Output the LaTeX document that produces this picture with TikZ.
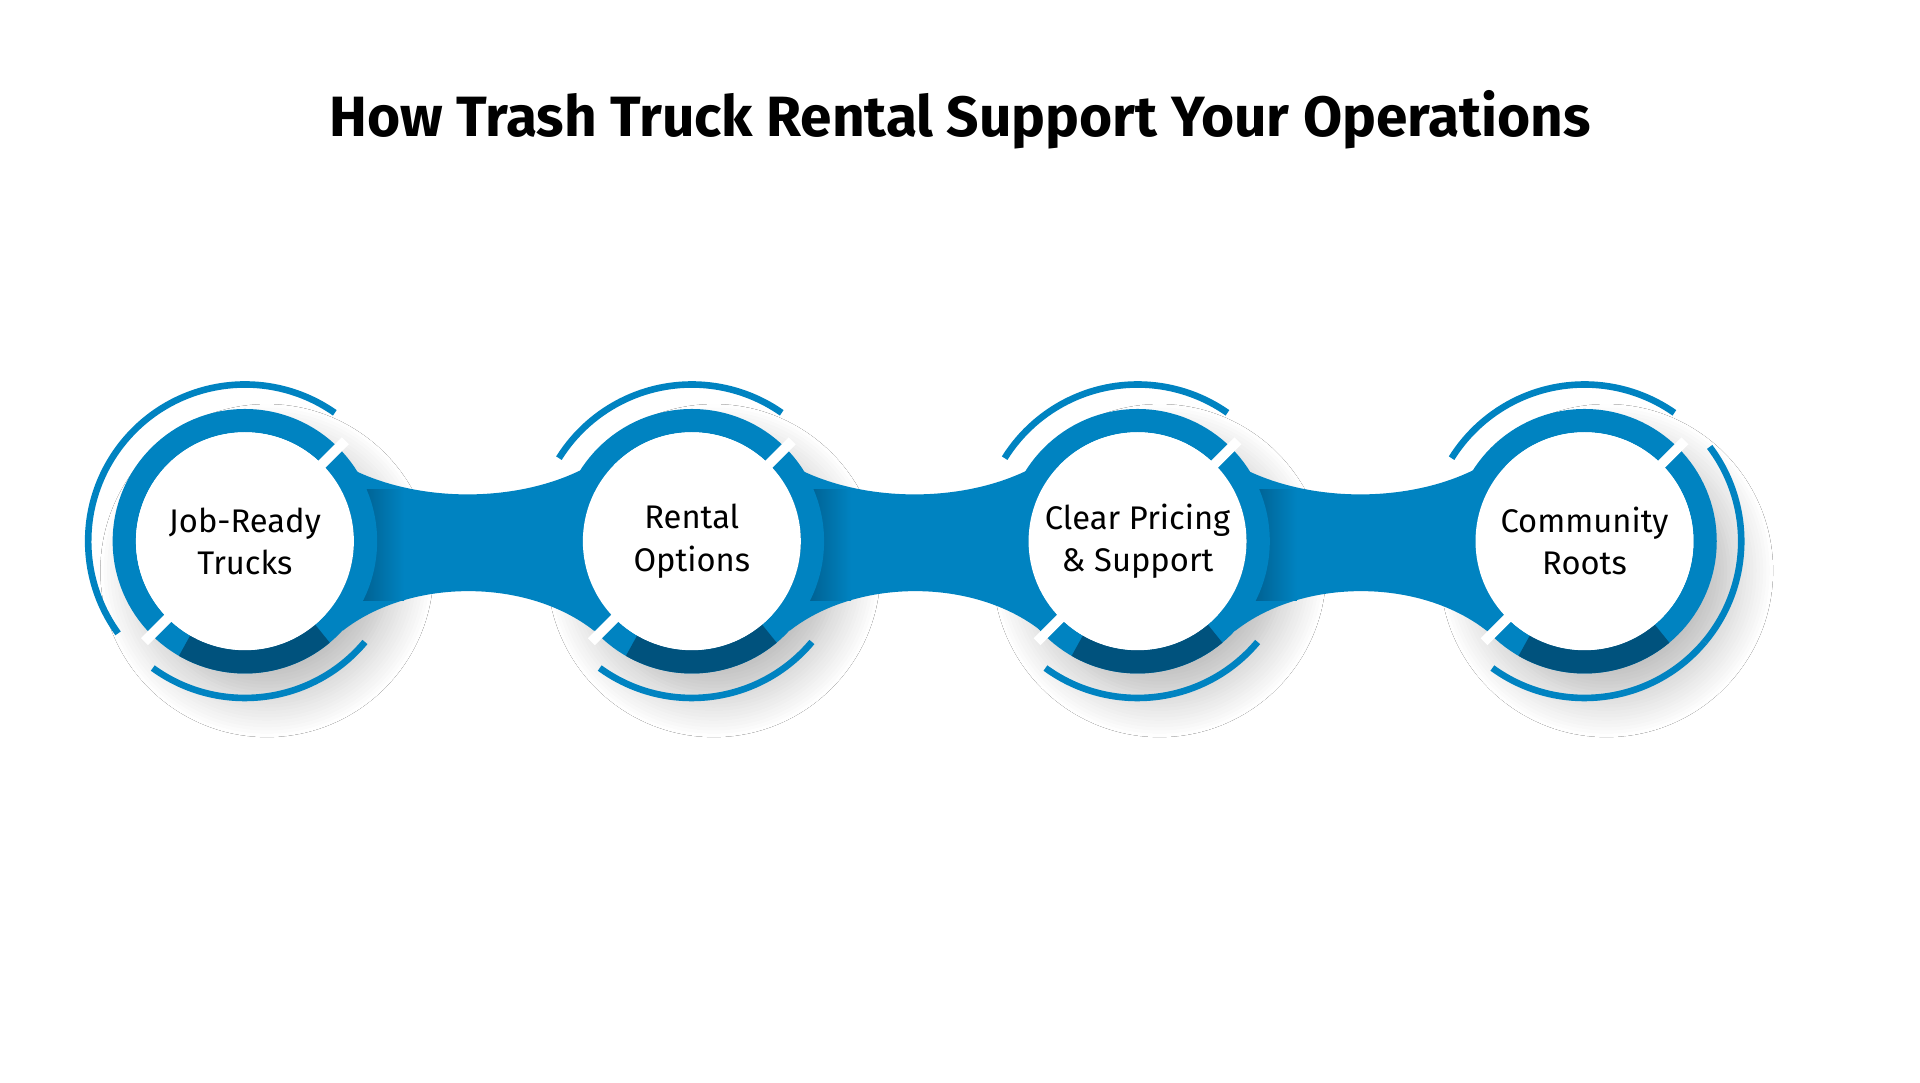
\documentclass[tikz,border=0pt]{standalone}
\usepackage{fontspec}
\setmainfont{Fira Sans}
\usetikzlibrary{shadows.blur}
\definecolor{ringblue}{HTML}{0083C1}
\definecolor{darkblue}{HTML}{00527D}
\tikzset{
every picture/.style={line width=1pt}}

\begin{document}
\begin{tikzpicture}[x=0.05cm, y=-0.05cm,
  band/.style = {fill=ringblue},
  thickring/.style = {draw=ringblue, line width=0.95cm},
  thinring/.style = {draw=ringblue, line width=0.27cm},
  cut/.style = {draw=white, line width=0.4cm},
  label/.style = {align=center, font=\fontsize{38}{49}\selectfont}]

\useasboundingbox[fill=white] (0,0) rectangle (1568,884);

\node (title) at (784,98) {\fontsize{66}{74}\selectfont\bfseries How Trash Truck Rental Support Your Operations};

% shadows
\foreach \x in {200,565,929,1294}
  \fill[white, blur shadow={shadow xshift=0.9cm, shadow yshift=-1.2cm, shadow opacity=30, shadow blur steps=14, shadow blur radius=1.8cm}] (\x,442) circle (100);

% connecting bands
\foreach \x in {200,565,929}{
  \fill[band] (\x+70,373) .. controls (\x+130,414) and (\x+234,414) .. (\x+293,373)
    -- (\x+365,442) -- (\x+285,515)
    .. controls (\x+230,472) and (\x+135,472) .. (\x+80,515) -- (\x,442) -- cycle;
  \shade[left color=darkblue, right color=ringblue, draw=none]
    (\x+80,400) rectangle (\x+130,490);
}

% rings
\foreach \x/\name in {200/c1,565/c2,929/c3,1294/c4}{
  \draw[thickring] (\x,442) circle (98.5);
  \draw[darkblue, line width=0.95cm] (\x,442) ++(-240:98.5) arc[start angle=-240, end angle=-310, radius=98.5];
  \draw[cut] (\x,442) ++(-45:84) -- ++(-45:32);
  \draw[cut] (\x,442) ++(-225:84) -- ++(-225:32);
  \draw[thinring] (\x,442) ++(-234:128) arc[start angle=-234, end angle=-320, radius=128];
  \node[circle, fill=white, minimum size=178*0.05cm, inner sep=0pt] (\name) at (\x,442) {};
}
\draw[thinring] (200,442) ++(-55:128) arc[start angle=-55, end angle=-216, radius=128];
\foreach \x in {565,929,1294}
  \draw[thinring] (\x,442) ++(-55:128) arc[start angle=-55, end angle=-148, radius=128];
\draw[thinring] (1294,442) ++(-37:128) arc[start angle=-37, end angle=40, radius=128];

\node[label] at (c1) {Job-Ready\\Trucks};
\node[label] at (c2) {Rental\\Options};
\node[label] at (c3) {Clear Pricing\\\& Support};
\node[label] at (c4) {Community\\Roots};
\end{tikzpicture}
\end{document}
